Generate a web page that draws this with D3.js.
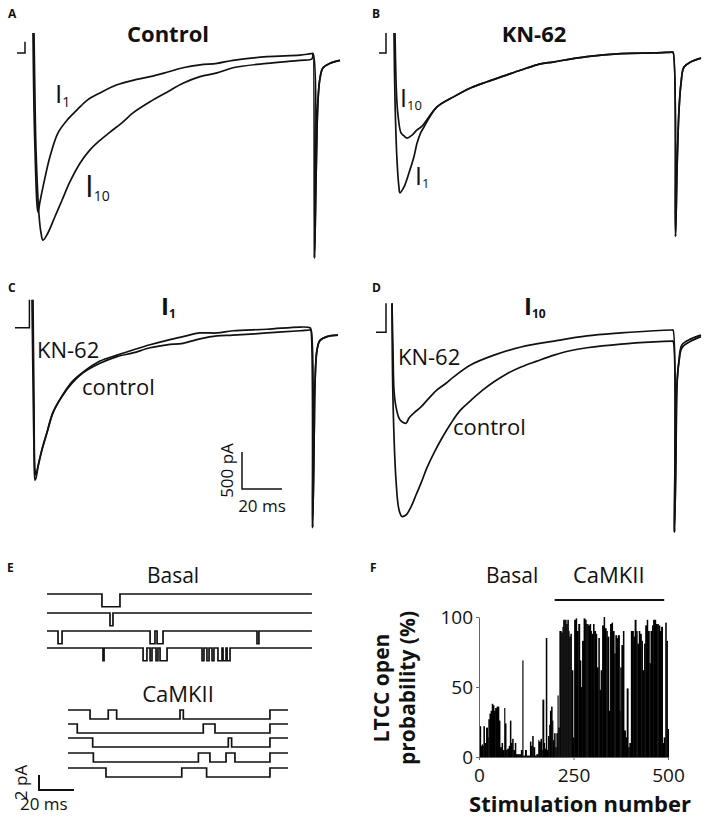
<!DOCTYPE html>
<html>
<head>
<meta charset="utf-8">
<script src="https://cdn.jsdelivr.net/npm/d3@7"></script>
<style>
  body { margin: 0; background: #fff; }
  svg text { font-family: "Open Sans", sans-serif; fill: #111; }
</style>
</head>
<body>
<svg id="fig" width="708" height="818"></svg>
<script>
// whole-cell currents, [time ms, current pA]
const preStepA = [[-8, -40], [-4, -40], [-4, 110]];
const i1A = [[0, 230], [0.5, -810], [1, -1350], [2, -2090], [2.5, -2190], [3.5, -2050], [5, -1850], [8.5, -1440],
  [12.5, -1120], [17, -950], [22, -810], [27, -680], [33.5, -580], [42, -470], [50, -410], [58.5, -360], [67, -300],
  [75, -240], [83.5, -200], [92, -180], [100, -140], [117, -90], [133.5, -70], [139, -50]];
const i10A = [[0.5, 230], [1, -680], [1.5, -1350], [3, -2230], [4, -2470], [5, -2570], [7.5, -2470], [11, -2250],
  [14.5, -2030], [18.5, -1780], [23.5, -1530], [28.5, -1350], [33.5, -1220], [38.5, -1110], [45, -970], [50, -850],
  [58.5, -700], [67, -570], [75, -450], [83.5, -360], [92, -310], [100, -240], [117, -180], [133.5, -140], [139.5, -120]];
const tailA = [[140, -50], [140.75, -2810], [141.5, -1760], [142.5, -680], [143.5, -380], [145, -240], [148.5, -180], [153.5, -140]];

const preStepB = [[-7.5, -40], [-4, -40], [-4, 230]];
const i1B = [[0, 230], [0.5, -680], [1.5, -1490], [2.5, -1860], [3, -1930], [5, -1850], [7.5, -1660], [10, -1440],
  [11.5, -1260], [13.5, -1110], [15, -1040]];
const i10B = [[0.5, 230], [1, -410], [1.5, -720], [2, -880], [3.5, -1120], [5, -1160], [6.5, -1190], [9, -1150],
  [11.5, -1080], [14, -1030]];
const mergedB = [[21.5, -770], [30, -630], [38.5, -510], [46.5, -430], [55, -350], [63.5, -270], [71.5, -200],
  [80, -160], [96.5, -90], [113.5, -50], [130, -40], [139, -30]];
const tailB = [[139.5, -30], [140.75, -2520], [141.5, -1620], [142.5, -810], [143.5, -450], [145, -230], [148.5, -160], [153.5, -110]];

const preStepC = [[-9, 30], [-1.8, 30], [-1.8, 410]];
const controlC = [[-0.5, 410], [0, -680], [0.5, -1620], [1, -2030], [1.5, -2000], [2.5, -1850], [4.5, -1620],
  [7, -1390], [10, -1120], [14.5, -900], [19.5, -720], [25, -580], [33.5, -450], [42, -360], [50, -310], [58.5, -240],
  [67, -200], [75, -180], [83.5, -120], [92, -80], [100, -70], [117, -40], [133.5, -10], [138.5, 0]];
const knC = [[0, 410], [0.5, -950], [1, -1890], [1.5, -1960], [2.5, -1840], [4.5, -1610], [7, -1380], [10, -1110],
  [14.5, -890], [19.5, -700], [25, -570], [33.5, -420], [42, -340], [50, -270], [58.5, -200], [67, -140], [75, -90],
  [83.5, -40], [92, -40], [100, -10], [117, 10], [133.5, 40], [138.5, 30]];
const tailC = [[139, 0], [139.8, -2670], [140.6, -1400], [141, -720], [142, -270], [143.5, -140], [147, -90], [152.5, -70]];

const preStepD = [[-8, -30], [-3, -30], [-3, 360]];
const knD = [[0, 360], [0.5, -270], [1, -810], [2, -1040], [3.5, -1190], [5, -1240], [7, -1260], [8.5, -1190],
  [11, -1120], [14.5, -1040], [18.5, -920], [22.5, -810], [27, -720], [31, -630], [39.5, -470], [51, -340],
  [64.5, -230], [81, -150], [97.5, -80], [114.5, -40], [131, -10], [140, 0]];
const knTailD = [[140.5, 0], [141.25, -2730], [142, -1620], [142.5, -720], [143.5, -410], [145, -200], [149.5, -120], [154.5, -70]];
const controlD = [[0, 360], [0.5, -950], [2, -2030], [3.5, -2430], [5, -2520], [7, -2500], [9.5, -2390], [12, -2230],
  [14.5, -2070], [17.5, -1860], [21, -1660], [25, -1460], [29.5, -1260], [34, -1090], [39.5, -950], [45, -820],
  [51, -700], [57.5, -590], [64.5, -500], [72.5, -420], [81, -340], [89, -280], [97.5, -240], [114.5, -190],
  [131, -160], [140, -150]];
const controlTailD = [[140.5, -150], [141.25, -2730], [142, -1620], [142.5, -740], [143.5, -430], [145, -240], [149.5, -150], [154.5, -90]];

// single-channel openings [open ms, close ms]
const basalRows = [
  [[31.4, 41.7]],
  [[36, 37.7]],
  [[6.3, 8.6], [58.9, 61.7], [62.9, 66.3], [120, 121.1]],
  [[32, 32.6], [54.9, 57.1], [58.9, 60], [62.3, 63.4], [64.6, 68.6], [88.6, 89.7], [91.4, 92.6], [94.3, 95.4],
    [97.7, 100], [100.6, 102.3], [102.9, 104.6]]
];
const camkiiRows = [
  [[12.6, 23], [27.8, 64], [65.9, 115.4]],
  [[5.3, 77.3], [84, 115.4]],
  [[14.1, 91.6], [93.5, 115.4]],
  [[14.5, 74.5], [81.1, 90.3], [95.4, 115.4]],
  [[21.7, 65], [79.2, 115.4]]
];
const basalAmp = 1.7, camkiiAmp = 1.2;      // pA
const basalEnd = 151.4, camkiiEnd = 125.7;  // ms

// open probability per stimulation, [stimulation number, %]
const openProb = [[3, 22], [6, 8], [9, 9], [11, 8], [13, 22], [16, 10], [20, 21], [24, 14], [26, 27], [29, 31], [32, 33],
  [35, 38], [38, 37], [41, 33], [44, 35], [48, 36], [51, 36], [54, 26], [57, 7], [61, 10], [64, 5], [68, 35], [70, 24],
  [73, 5], [76, 6], [80, 8], [83, 26], [86, 10], [89, 13], [92, 5], [96, 10], [99, 2], [103, 2], [108, 2], [112, 5],
  [116, 69], [118, 1], [123, 5], [127, 1], [132, 1], [136, 11], [139, 8], [142, 15], [145, 7], [149, 1], [153, 2],
  [158, 12], [160, 11], [164, 13], [167, 5], [169, 41], [173, 10], [175, 6], [178, 85], [181, 5], [184, 15], [187, 23],
  [189, 33], [192, 36], [195, 26], [197, 12], [200, 17], [203, 7], [206, 17], [209, 44], [211, 21], [214, 90],
  [217, 90], [219, 89], [222, 93], [224, 98], [227, 98], [230, 98], [232, 95], [235, 98], [238, 90], [240, 86],
  [243, 88], [246, 62], [250, 14], [253, 98], [257, 99], [260, 90], [264, 95], [268, 69], [271, 50], [274, 83],
  [278, 99], [282, 98], [285, 95], [288, 95], [290, 94], [294, 95], [297, 90], [299, 88], [303, 95], [306, 90],
  [310, 88], [313, 64], [317, 85], [320, 48], [323, 62], [327, 94], [331, 100], [334, 92], [338, 90], [341, 86],
  [345, 33], [348, 95], [352, 96], [355, 90], [359, 74], [362, 87], [366, 85], [369, 87], [373, 33], [375, 64],
  [378, 80], [382, 90], [385, 19], [389, 14], [392, 49], [396, 7], [399, 10], [403, 90], [406, 90], [410, 86],
  [413, 98], [417, 90], [420, 81], [424, 90], [427, 88], [431, 83], [434, 62], [438, 81], [441, 94], [445, 98],
  [448, 90], [452, 67], [455, 90], [459, 94], [462, 98], [466, 98], [469, 95], [473, 95], [476, 94], [480, 90],
  [483, 93], [487, 10], [490, 14], [494, 96], [497, 83], [500, 20]];
const camkiiSpan = [200, 490];
const yTicks = [0, 50, 100];
const xTicks = [0, 250, 500];

const svg = d3.select("#fig");

function label(x, y, main, sub, size, subSize, weight) {
  const t = svg.append("text").attr("x", x).attr("y", y)
    .attr("font-size", size).attr("font-weight", weight || 400);
  t.append("tspan").text(main);
  if (sub) t.append("tspan").text(sub).attr("font-size", subSize).attr("dy", subSize * 0.25);
  return t;
}

// ---- panels A-D ----
const panels = [
  { x0: 33, y0: 50, pre: preStepA, traces: [i1A.concat(tailA), i10A.concat(tailA)] },
  { x0: 394, y0: 50, pre: preStepB, traces: [i1B.concat(mergedB, tailB), i10B.concat(mergedB, tailB)] },
  { x0: 33, y0: 330, pre: preStepC, traces: [controlC.concat(tailC), knC.concat(tailC)] },
  { x0: 392, y0: 330, pre: preStepD, traces: [controlD.concat(controlTailD), knD.concat(knTailD)] }
];
let scaleC;
panels.forEach((p, k) => {
  const x = d3.scaleLinear().domain([0, 100]).range([p.x0, p.x0 + 200]);
  const y = d3.scaleLinear().domain([0, -1000]).range([p.y0, p.y0 + 74]);
  if (k === 2) scaleC = { x, y };
  const g = svg.append("g");
  g.append("path").attr("d", d3.line().x(d => x(d[0])).y(d => y(d[1]))(p.pre))
    .attr("fill", "none").attr("stroke", "#111").attr("stroke-width", 1.5);
  const line = d3.line().x(d => x(d[0])).y(d => y(d[1])).curve(d3.curveCatmullRom.alpha(0.5));
  p.traces.forEach(tr => {
    g.append("path").attr("d", line(tr))
      .attr("fill", "none").attr("stroke", "#111").attr("stroke-width", 1.7).attr("stroke-linejoin", "round");
  });
});

// scale bar (panel C)
const sbX = 242, sbY = 489;
const sbW = scaleC.x(20) - scaleC.x(0), sbH = scaleC.y(-500) - scaleC.y(0);
svg.append("path").attr("d", `M${sbX},${sbY - sbH}V${sbY}H${sbX + sbW}`)
  .attr("fill", "none").attr("stroke", "#111").attr("stroke-width", 1.5);
svg.append("text").attr("transform", `translate(233,${sbY - sbH / 2}) rotate(-90)`)
  .attr("text-anchor", "middle").attr("font-size", 17).text("500 pA");
svg.append("text").attr("x", sbX + sbW / 2).attr("y", 512).attr("text-anchor", "middle")
  .attr("font-size", 17).text("20 ms");

// letters and labels A-D
[["A", 8, 18], ["B", 372, 18], ["C", 8, 292], ["D", 372, 292], ["E", 7, 572], ["F", 370, 572]].forEach(d => {
  svg.append("text").attr("x", d[1]).attr("y", d[2]).attr("font-size", 12).attr("font-weight", 700).text(d[0]);
});
svg.append("text").attr("x", 168).attr("y", 42).attr("text-anchor", "middle")
  .attr("font-size", 22).attr("font-weight", 700).text("Control");
svg.append("text").attr("x", 534).attr("y", 42).attr("text-anchor", "middle")
  .attr("font-size", 22).attr("font-weight", 700).text("KN-62");
label(55, 103, "I", "1", 26, 14);
label(85, 197, "I", "10", 31, 14);
label(400, 107, "I", "10", 25, 13);
label(415, 185, "I", "1", 25, 13);
label(161, 315, "I", "1", 24, 12, 700);
label(524, 315, "I", "10", 24, 12, 700);
label(37, 358, "KN-62", null, 22);
label(82, 395, "control", null, 22);
label(398, 365, "KN-62", null, 22);
label(453, 435, "control", null, 22);

// ---- panel E ----
const xE = d3.scaleLinear().domain([0, 20]).range([0, 35]);
const yE = d3.scaleLinear().domain([0, -2]).range([0, 15]);
function stepPoints(openings, amp, tEnd) {
  const pts = [[0, 0]];
  openings.forEach(o => { pts.push([o[0], -amp]); pts.push([o[1], 0]); });
  pts.push([tEnd, 0]);
  return pts;
}
const stepLine = d3.line().x(d => xE(d[0])).y(d => yE(d[1])).curve(d3.curveStepAfter);
const basalY = [594, 613, 631, 648];
const camkiiY = [710, 724, 738, 753, 768];
basalRows.forEach((r, i) => {
  svg.append("path").attr("transform", `translate(47,${basalY[i]})`)
    .attr("d", stepLine(stepPoints(r, basalAmp, basalEnd)))
    .attr("fill", "none").attr("stroke", "#111").attr("stroke-width", 1.7);
});
camkiiRows.forEach((r, i) => {
  svg.append("path").attr("transform", `translate(68,${camkiiY[i]})`)
    .attr("d", stepLine(stepPoints(r, camkiiAmp, camkiiEnd)))
    .attr("fill", "none").attr("stroke", "#111").attr("stroke-width", 1.7);
});
svg.append("text").attr("x", 173).attr("y", 583).attr("text-anchor", "middle").attr("font-size", 21).text("Basal");
svg.append("text").attr("x", 178).attr("y", 702).attr("text-anchor", "middle").attr("font-size", 22).text("CaMKII");
const ebX = 39, ebY = 790;
svg.append("path").attr("d", `M${ebX},${ebY - yE(-2)}V${ebY}H${ebX + xE(20)}`)
  .attr("fill", "none").attr("stroke", "#111").attr("stroke-width", 2);
svg.append("text").attr("transform", `translate(27,${ebY - yE(-2) / 2}) rotate(-90)`)
  .attr("text-anchor", "middle").attr("font-size", 17).text("2 pA");
svg.append("text").attr("x", 20).attr("y", 810).attr("font-size", 17).text("20 ms");

// ---- panel F ----
const xF = d3.scaleLinear().domain([0, 500]).range([479, 668]);
const yF = d3.scaleLinear().domain([0, 100]).range([757, 617]);
svg.append("g").selectAll("rect").data(openProb).enter().append("rect")
  .attr("x", d => xF(d[0]) - 0.5)
  .attr("width", (d, i) => {
    const next = openProb[i + 1] ? openProb[i + 1][0] : d[0] + 3;
    return Math.max(1, xF(next) - xF(d[0]) + 0.4);
  })
  .attr("y", d => yF(d[1]))
  .attr("height", d => yF(0) - yF(d[1]))
  .attr("fill", "#000");

const yAxis = svg.append("g").attr("transform", "translate(479,0)")
  .call(d3.axisLeft(yF).tickValues(yTicks).tickSize(3).tickSizeOuter(0).tickPadding(3));
const xAxis = svg.append("g").attr("transform", "translate(0,757)")
  .call(d3.axisBottom(xF).tickValues(xTicks).tickSize(3).tickSizeOuter(0).tickPadding(9));
[yAxis, xAxis].forEach(a => {
  a.select(".domain").attr("stroke", "#666");
  a.selectAll(".tick line").attr("stroke", "#666");
  a.selectAll(".tick text").attr("font-size", 19).attr("font-family", "Open Sans").attr("fill", "#111");
});

svg.append("line").attr("x1", xF(camkiiSpan[0])).attr("x2", xF(camkiiSpan[1]))
  .attr("y1", 600).attr("y2", 600).attr("stroke", "#111").attr("stroke-width", 2);
svg.append("text").attr("x", 486).attr("y", 583).attr("font-size", 21).text("Basal");
svg.append("text").attr("x", 573).attr("y", 583).attr("font-size", 22).text("CaMKII");
svg.append("text").attr("transform", "translate(389,688) rotate(-90)").attr("text-anchor", "middle")
  .attr("font-size", 21).attr("font-weight", 700).text("LTCC open");
svg.append("text").attr("transform", "translate(415,688) rotate(-90)").attr("text-anchor", "middle")
  .attr("font-size", 21).attr("font-weight", 700).text("probability (%)");
svg.append("text").attr("x", 580).attr("y", 812).attr("text-anchor", "middle")
  .attr("font-size", 22).attr("font-weight", 700).text("Stimulation number");
</script>
</body>
</html>
